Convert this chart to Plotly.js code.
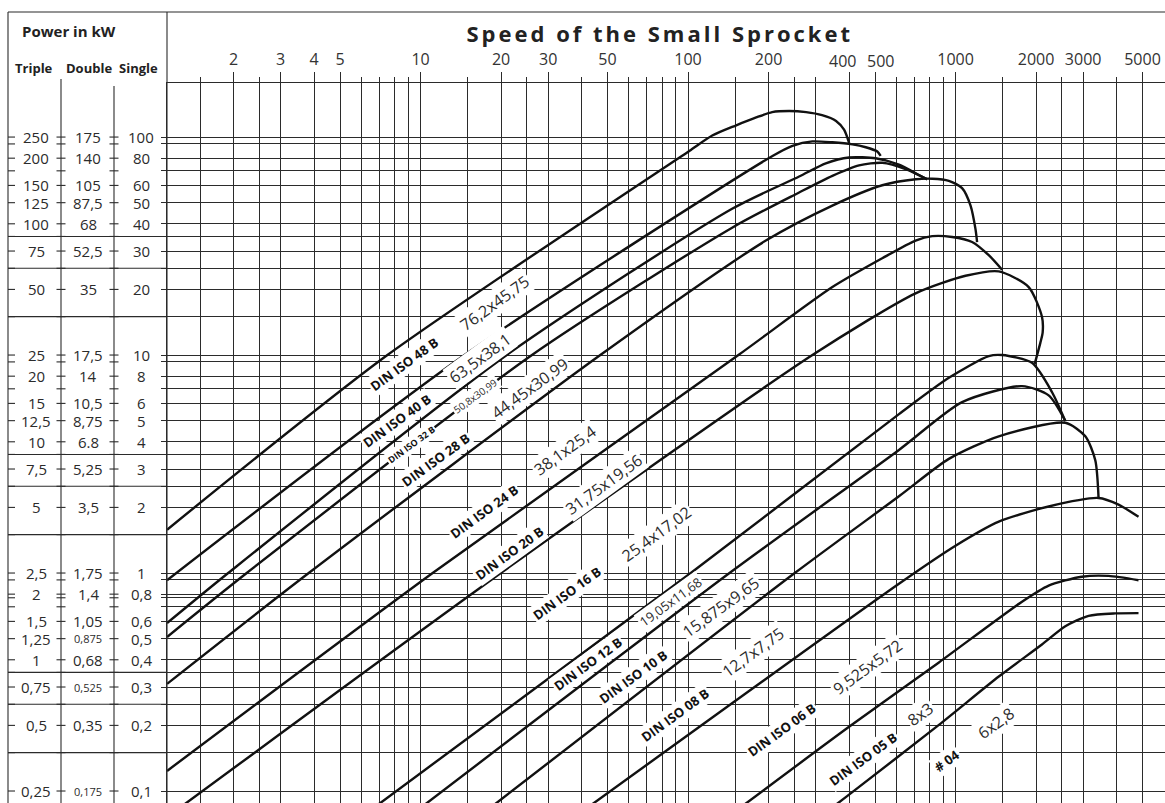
<!DOCTYPE html>
<html><head><meta charset="utf-8">
<script src="https://cdn.plot.ly/plotly-3.0.1.min.js"></script>
<style>html,body{margin:0;padding:0;background:#fff}#chart{width:1165px;height:803px}
g.annotation[data-index="0"] text{letter-spacing:3px}</style>
</head><body><div id="chart"></div>
<script>
// ---- axis ticks (speed, 1/min) ----
const speedLabelled = [2,3,4,5,10,20,30,50,100,200,400,500,1000,2000,3000,5000];
const speedMinor = [1.5,2.5,6,7,8,9,15,25,40,60,70,80,90,150,250,300,600,700,800,900,1500,2500,4000];
const speedCrowded = [400,500];   // labels pushed apart as in the original

// ---- power grid (single strand, kW) ----
const powerGrid = [100,93,80,70,60,50,40,35,30,25,20,15,10,9.3,8,7,6,5,4,3.5,3,2.5,2,1.5,1,0.93,0.8,0.77,0.7,0.6,0.5,0.4,0.35,0.3,0.25,0.2,0.15,0.1];
const panelMajor = [35,25,15,3.5,2.5,1.5,0.35,0.25,0.15];

// ---- power scale labels ----
const rowSingle = [100,80,60,50,40,30,20,10,8,6,5,4,3,2,1,0.8,0.6,0.5,0.4,0.3,0.2,0.1];
const singleText = ["100","80","60","50","40","30","20","10","8","6","5","4","3","2","1","0,8","0,6","0,5","0,4","0,3","0,2","0,1"];
const doubleText = ["175","140","105","87,5","68","52,5","35","17,5","14","10,5","8,75","6.8","5,25","3,5","1,75","1,4","1,05","0,875","0,68","0,525","0,35","0,175"];
const tripleText = ["250","200","150","125","100","75","50","25","20","15","12,5","10","7,5","5","2,5","2","1,5","1,25","1","0,75","0,5","0,25"];

// ---- chain curves: speed (1/min) and power (kW, single) ----
const c48B_n = [1.128, 7.52, 101.1, 123.2, 151.4, 179.8, 206.4, 238.8, 276.3, 317, 357.5, 383, 400];
const c48B_p = [1.58, 10, 86.4, 101.6, 113.2, 123.0, 130.1, 131.6, 130.1, 126, 118.6, 108.1, 94.1];
const c40B_n = [1.128, 14.6, 206.9, 245.6, 291.7, 346.4, 411.5, 461.6, 510, 525];
const c40B_p = [0.927, 10, 81.9, 91.2, 95.5, 94.6, 92.6, 89.8, 85.8, 81.9];
const c32B_n = [1.128, 1.91, 21.0, 146.7, 260.2, 327.3, 399.9, 502.9, 614.5, 729.5, 783.4];
const c32B_p = [0.589, 1, 10, 47.0, 65.9, 75.8, 80.6, 79.9, 74.7, 67.0, 64.0];
const c28B_n = [1.128, 2.24, 26.1, 146.7, 260.2, 346.4, 435.8, 532.3, 650.9, 783.4];
const c28B_p = [0.509, 1, 10, 38.5, 55.7, 66.4, 74.2, 76.2, 71.3, 64.0];
const c24B_n = [1.128, 3.82, 47.0, 195.4, 346.4, 532.3, 709, 818, 944, 1058, 1138, 1187, 1204];
const c24B_p = [0.310, 1, 10, 33.5, 48.5, 60.1, 64.0, 64.4, 63.0, 58.3, 48.5, 37.9, 33.0];
const c20B_n = [1.128, 11.1, 154.3, 346.4, 532.3, 709, 818, 971, 1153, 1331, 1493];
const c20B_p = [0.1236, 1, 10, 20.5, 27.8, 33.5, 35.1, 34.8, 33.0, 28.7, 24.6];
const c16B_n = [1.264, 19.95, 291.7, 709, 1090, 1451, 1877, 2104, 2117, 2076, 1977];
const c16B_p = [0.0841, 1, 10, 19.2, 23.1, 24.2, 20.5, 15.0, 12.7, 11.4, 9.11];
const c12B_n = [6.64, 102.4, 614.5, 944, 1331, 1493, 1931, 2293, 2573];
const c12B_p = [0.0832, 1, 5.36, 7.86, 9.89, 10, 9.21, 6.77, 4.98];
const c10B_n = [9.94, 142.9, 614.5, 1058, 1772, 2229, 2573];
const c10B_p = [0.0832, 1, 3.67, 6.08, 7.20, 6.53, 4.98];
const c08B_n = [18.1, 250.6, 614.5, 944, 1451, 2573, 3056, 3330, 3425];
const c08B_p = [0.0832, 1, 2.25, 3.34, 4.24, 4.89, 4.24, 3.29, 2.21];
const c06B_n = [41.7, 614.5, 1000, 1451, 2229, 3425, 4067, 4831];
const c06B_p = [0.0832, 0.893, 1.334, 1.72, 2.02, 2.21, 2.06, 1.81];
const c05B_n = [155.4, 399.9, 866.7, 1772, 2229, 2968, 3733, 4831];
const c05B_p = [0.0832, 0.197, 0.389, 0.739, 0.876, 0.962, 0.970, 0.927];
const c04_n = [342.5, 399.9, 866.7, 1451, 2104, 2573, 3144, 3954, 4831];
const c04_p = [0.0832, 0.0963, 0.201, 0.335, 0.470, 0.570, 0.636, 0.653, 0.655];

// ---- curve labels ----
const chainNames = ["DIN ISO 48 B","DIN ISO 40 B","DIN ISO 32 B","DIN ISO 28 B","DIN ISO 24 B","DIN ISO 20 B","DIN ISO 16 B","DIN ISO 12 B","DIN ISO 10 B","DIN ISO 08 B","DIN ISO 06 B","DIN ISO 05 B","# 04"];
const chainDims = ["76,2x45,75","63,5x38,1","50,8x30,99","44,45x30,99","38,1x25,4","31,75x19,56","25,4x17,02","19,05x11,68","15,875x9,65","12,7x7,75","9,525x5,72","8x3","6x2,8"];
const nameAtN = [8.69, 8.14, 9.26, 11.4, 17.2, 21.5, 35.4, 42.2, 62.1, 89.4, 223.6, 451, 922];
const nameAtP = [9.11, 4.98, 3.87, 3.29, 1.915, 1.242, 0.809, 0.382, 0.335, 0.2234, 0.19, 0.1404, 0.1379];
const dimAtN = [18.9, 16.7, 16.0, 25.7, 34.8, 48.7, 76.0, 85.7, 132.8, 175.3, 467.9, 740, 1418];
const dimAtP = [17.4, 9.72, 6.48, 7.03, 3.67, 2.555, 1.514, 0.739, 0.698, 0.4356, 0.3718, 0.2252, 0.205];

const curves = [[c48B_n,c48B_p],[c40B_n,c40B_p],[c32B_n,c32B_p],[c28B_n,c28B_p],[c24B_n,c24B_p],[c20B_n,c20B_p],[c16B_n,c16B_p],[c12B_n,c12B_p],[c10B_n,c10B_p],[c08B_n,c08B_p],[c06B_n,c06B_p],[c05B_n,c05B_p],[c04_n,c04_p]];

const FONT = '"Open Sans", "DejaVu Sans", sans-serif';
const INK = '#2b2b2b';
const L = Math.log10;

const traces = curves.map((c,i) => ({
  x: c[0], y: c[1], type: 'scatter', mode: 'lines', name: chainNames[i],
  line: {color: '#111', width: 2.4, shape: 'spline', smoothing: 0.7},
  hoverinfo: 'skip', showlegend: false
}));

const PL = 167, PW = 998, PT = 83, PH = 720;
const px2paper = p => (p - PL) / PW;
const py2paper = p => (PT + PH - p) / PH;

const shapes = [];
const line = (o) => Object.assign({type:'line', line:{color:INK, width:1.1}, layer:'above'}, o);
shapes.push(line({xref:'paper', yref:'paper', x0:px2paper(8), x1:1, y0:py2paper(12), y1:py2paper(12)}));
shapes.push(line({xref:'paper', yref:'paper', x0:px2paper(8), x1:px2paper(8), y0:py2paper(12), y1:0}));
shapes.push(line({xref:'paper', yref:'paper', x0:0, x1:0, y0:py2paper(12), y1:0}));
shapes.push(line({xref:'paper', yref:'paper', x0:px2paper(61), x1:px2paper(61), y0:py2paper(79), y1:0}));
shapes.push(line({xref:'paper', yref:'paper', x0:px2paper(114), x1:px2paper(114), y0:py2paper(86), y1:0}));
// full-width lines in left panel (shapes on a log axis take data values)
panelMajor.forEach(v => shapes.push(line({xref:'paper', yref:'y', x0:px2paper(8), x1:0, y0:v, y1:v})));
powerGrid.forEach(v => {
  [[8,15],[56.5,65.5],[109.5,118.5]].forEach(([a,b]) =>
    shapes.push(line({xref:'paper', yref:'y', x0:px2paper(a), x1:px2paper(b), y0:v, y1:v})));
});

const ann = [];
const C = {xanchor:'center', yanchor:'middle', showarrow:false};
ann.push(Object.assign({xref:'paper', yref:'paper', x:px2paper(660), y:py2paper(33), text:'Speed of the Small Sprocket',
  font:{family:FONT, size:22, color:'#222', weight:700}}, C));
ann.push(Object.assign({xref:'paper', yref:'paper', x:px2paper(69), y:py2paper(31), text:'Power in kW',
  font:{family:FONT, size:15, color:'#222', weight:700}}, C));
[['Triple',33.5],['Double',88.5],['Single',138.5]].forEach(([t,x]) =>
  ann.push(Object.assign({xref:'paper', yref:'paper', x:px2paper(x), y:py2paper(68), text:t,
    font:{family:FONT, size:13, color:'#222', weight:700}}, C)));
const small = s => s.length >= 5 && s.startsWith('0,');
rowSingle.forEach((v,i) => {
  [[tripleText[i],36],[doubleText[i],88],[singleText[i],141]].forEach(([t,x]) =>
    ann.push(Object.assign({xref:'paper', yref:'y', x:px2paper(x), y:L(v), text:t,
      font:{family:FONT, size: small(t) ? 11 : 15, color:INK}}, C)));
});
// crowded speed labels (400 / 500) nudged apart
speedCrowded.forEach((v,i) => ann.push({xref:'x', yref:'paper', x:L(v), y:py2paper(61), text:String(v), showarrow:false,
  xanchor: i === 0 ? 'right' : 'left', yanchor:'middle', xshift: i === 0 ? 9 : -10,
  font:{family:FONT, size:16, color:'#333'}}));
chainNames.forEach((t,i) => {
  const sm = (i === 2);
  ann.push(Object.assign({x:L(nameAtN[i]), y:L(nameAtP[i]), text:t, textangle:-36, bgcolor:'white', borderpad:1,
    font:{family:FONT, size: sm ? 9 : 13, color:'#111', weight:700}}, C));
  ann.push(Object.assign({x:L(dimAtN[i]), y:L(dimAtP[i]), text:chainDims[i], textangle:-36, bgcolor:'white', borderpad:1,
    font:{family:FONT, size: sm ? 10 : (i===7 ? 13 : 16), color:INK}}, C));
});

const layout = {
  width:1165, height:803, margin:{l:PL, r:0, t:PT, b:0}, paper_bgcolor:'white', plot_bgcolor:'white',
  showlegend:false,
  xaxis:{type:'log', range:[0.0522, 0.0522 + PW/267.5], side:'top', tickmode:'array', tickangle:0,
    tickvals:speedLabelled, ticktext:speedLabelled.map(v => speedCrowded.includes(v) ? '' : String(v)),
    ticks:'outside', ticklen:10, tickcolor:INK, tickwidth:1,
    tickfont:{family:FONT, size:16, color:'#333'}, showgrid:true, gridcolor:INK, gridwidth:1,
    showline:true, linecolor:INK, linewidth:1.2, zeroline:false, fixedrange:true,
    minor:{tickmode:'array', tickvals:speedMinor, ticks:'outside', ticklen:5, tickcolor:INK, showgrid:true, gridcolor:INK, gridwidth:1}},
  yaxis:{type:'log', range:[-1.055, 2.248], tickmode:'array', tickvals:powerGrid, showticklabels:false,
    ticks:'outside', ticklen:5, tickcolor:INK, showgrid:true, gridcolor:INK, gridwidth:1,
    showline:true, linecolor:INK, linewidth:1.2, zeroline:false, fixedrange:true},
  shapes:shapes, annotations:ann
};

Plotly.newPlot('chart', traces, layout, {staticPlot:true, displayModeBar:false});
</script></body></html>
